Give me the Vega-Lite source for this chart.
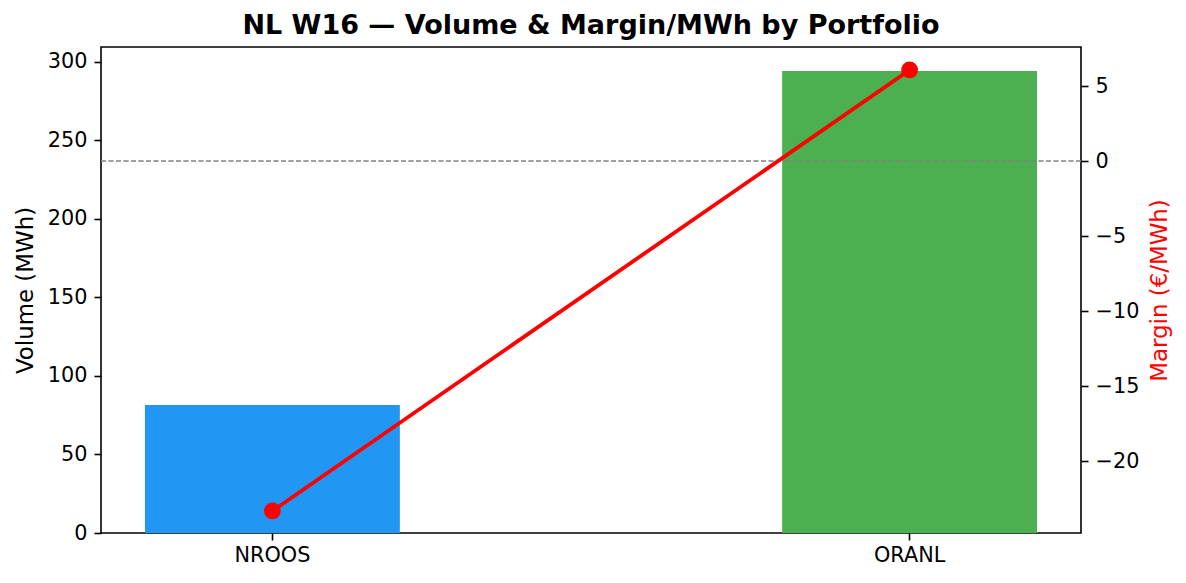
{
  "$schema": "https://vega.github.io/schema/vega-lite/v6.json",
  "autosize": {"type": "none"},
  "padding": {"left": 101, "top": 47, "right": 105, "bottom": 50},
  "width": 980,
  "height": 486,
  "title": {
    "text": "NL W16 — Volume & Margin/MWh by Portfolio",
    "font": "DejaVu Sans",
    "fontSize": 27,
    "fontWeight": "bold",
    "color": "#000",
    "offset": 7
  },
  "data": {
    "values": [
      {"portfolio": "NROOS", "volume": 81.5, "margin": -23.33},
      {"portfolio": "ORANL", "volume": 294.1, "margin": 6.07}
    ]
  },
  "layer": [
    {
      "mark": {"type": "bar"},
      "encoding": {
        "x": {
          "field": "portfolio",
          "type": "nominal",
          "title": null,
          "scale": {"paddingInner": 0.6, "paddingOuter": 0.069},
          "axis": {"labelAngle": 0, "domain": false, "tickSize": 7, "labelPadding": 5}
        },
        "y": {
          "field": "volume",
          "type": "quantitative",
          "title": "Volume (MWh)",
          "scale": {"domain": [0, 309.3], "nice": false, "zero": false},
          "axis": {"orient": "left", "values": [0, 50, 100, 150, 200, 250, 300], "grid": false, "domain": false}
        },
        "color": {
          "field": "portfolio",
          "type": "nominal",
          "scale": {"domain": ["NROOS", "ORANL"], "range": ["#2196F3", "#4CAF50"]},
          "legend": null
        }
      }
    },
    {
      "layer": [
        {
          "mark": {"type": "rule", "color": "#808080", "strokeWidth": 1, "strokeDash": [5, 2.5]},
          "encoding": {
            "y": {
              "datum": 0,
              "type": "quantitative",
              "title": "Margin (€/MWh)",
              "axis": {"orient": "right", "values": [5, 0, -5, -10, -15, -20], "grid": false, "domain": false, "titleColor": "#ff0000", "titleAngle": 270, "titleBaseline": "top"}
            }
          }
        },
        {
          "mark": {"type": "line", "color": "#ff0000", "strokeWidth": 3.8, "point": {"filled": true, "color": "#ff0000", "size": 283, "opacity": 1}},
          "encoding": {
            "x": {"field": "portfolio", "type": "nominal"},
            "y": {
              "field": "margin",
              "type": "quantitative",
              "title": "Margin (€/MWh)",
              "scale": {"domain": [-24.8, 7.6], "nice": false, "zero": false},
              "axis": {"orient": "right", "values": [5, 0, -5, -10, -15, -20], "grid": false, "domain": false, "titleColor": "#ff0000", "titleAngle": 270, "titleBaseline": "top"}
            }
          }
        }
      ]
    }
  ],
  "resolve": {"scale": {"y": "independent"}},
  "config": {
    "font": "DejaVu Sans",
    "view": {"stroke": "#000", "strokeWidth": 1.6},
    "axis": {
      "labelFont": "DejaVu Sans",
      "labelFontSize": 20.8,
      "labelColor": "#000",
      "titleFont": "DejaVu Sans",
      "titleFontSize": 22.9,
      "titleFontWeight": "normal",
      "titleColor": "#000",
      "titlePadding": 10,
      "tickColor": "#000",
      "tickSize": 7,
      "tickWidth": 1.6,
      "labelPadding": 7
    }
  }
}
